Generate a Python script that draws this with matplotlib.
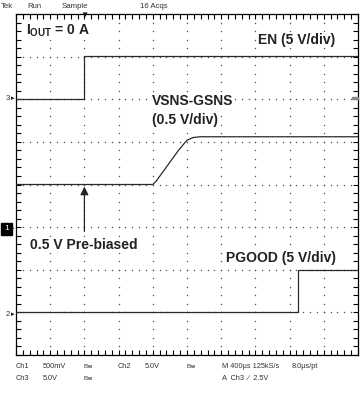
import numpy as np
import matplotlib
matplotlib.use("Agg")
import matplotlib.pyplot as plt

plt.rcParams['font.family'] = ['Liberation Sans', 'DejaVu Sans']
plt.rcParams['mathtext.fontset'] = 'custom'
plt.rcParams['mathtext.bf'] = 'Liberation Sans:bold'
plt.rcParams['mathtext.rm'] = 'Liberation Sans:bold'

# time base: 400 us/div, 10 div, trigger 2 div from the left (ms)
t_min, t_max = -0.8, 3.2

# EN, ch3, 5 V/div, ground at +2 div
en_t = [-0.8, 0.0, 0.0, 3.2]
en_v = [0.0, 0.0, 5.1, 5.1]
en_zero, en_scale = 2.0, 5.0

# VSNS-GSNS, ch1, 0.5 V/div, ground at -1 div
vs_t = [-0.8, 0.80, 0.84, 1.10, 1.20, 1.27, 1.35, 3.2]
vs_v = [0.50, 0.50, 0.54, 0.90, 1.02, 1.05, 1.06, 1.06]
vs_zero, vs_scale = -1.0, 0.5

# PGOOD, ch2, 5 V/div, ground at -3 div
pg_t = [-0.8, 2.50, 2.50, 3.2]
pg_v = [0.0, 0.0, 5.0, 5.0]
pg_zero, pg_scale = -3.0, 5.0

W, H = 361, 395
fig = plt.figure(figsize=(W / 100, H / 100), dpi=100)
fig.patch.set_facecolor('white')


def fx(px):
    return px / W


def fy(py):
    return 1 - py / H


ax = fig.add_axes([fx(16), fy(355), (358 - 16) / W, (355 - 14) / H])
ax.set_xlim(t_min, t_max)
ax.set_ylim(-4, 4)

# graticule dots on every division line
for k in range(1, 10):
    xv = t_min + 0.4 * k
    ys = np.arange(-4, 4.01, 0.2)
    ax.scatter(np.full(len(ys), xv), ys, s=1.1, color='#555', lw=0, zorder=1)
for d in range(-3, 4):
    xs = np.arange(t_min, t_max + 0.001, 0.08)
    ax.scatter(xs, np.full(len(xs), d), s=1.1, color='#555', lw=0, zorder=1)

ax.set_xticks([])
ax.set_yticks([])
ax.set_xticks(np.arange(t_min, t_max + 0.001, 0.08), minor=True)
ax.set_yticks(np.arange(-4, 4.01, 0.2), minor=True)
ax.tick_params(which='minor', direction='in', length=3.5, width=0.8,
               top=True, bottom=True, left=True, right=True,
               labelbottom=False, labelleft=False)
for s in ax.spines.values():
    s.set_linewidth(0.9)

trace_kw = dict(color='#2a2a2a', lw=0.9, zorder=3)
ax.plot(en_t, en_zero + np.array(en_v) / en_scale, **trace_kw)
ax.plot(vs_t, vs_zero + np.array(vs_v) / vs_scale, **trace_kw)
ax.plot(pg_t, pg_zero + np.array(pg_v) / pg_scale, **trace_kw)

# arrow to pre-biased level
ax.annotate('', xy=(0.0, -0.05), xytext=(0.0, -1.1),
            arrowprops=dict(arrowstyle='-|>', color='#222', lw=0.9,
                            mutation_scale=12, shrinkA=0, shrinkB=0), zorder=4)

# labels (white box hides the graticule dots behind them)
bold = dict(fontsize=10, fontweight='bold', color='#222', zorder=5,
            bbox=dict(boxstyle='square,pad=0.05', fc='white', ec='none'))
fig.text(fx(26), fy(31), r'$\mathbf{I_{OUT}}$ = 0 A', va='center', ha='left', **bold)
fig.text(fx(258), fy(40), 'EN (5 V/div)', va='center', ha='left', **bold)
fig.text(fx(152), fy(101), 'VSNS-GSNS', va='center', ha='left', **bold)
fig.text(fx(152), fy(120), '(0.5 V/div)', va='center', ha='left', **bold)
fig.text(fx(30), fy(245), '0.5 V Pre-biased', va='center', ha='left', **bold)
fig.text(fx(226), fy(258), 'PGOOD (5 V/div)', va='center', ha='left', **bold)

# header
small = dict(fontsize=5.6, color='#333', va='center', ha='left')
fig.text(fx(1), fy(6), 'Tek', **small)
fig.text(fx(27), fy(6), 'Run', **small)
fig.text(fx(62), fy(6), 'Sample', **small)
fig.text(fx(140), fy(6), '16 Acqs', **small)
fig.text(fx(84), fy(15), '\u25bc', fontsize=6, color='#111', ha='center', va='center')

# channel markers
fig.text(fx(6), fy(99), '3', **small)
fig.text(fx(11), fy(99), '\u25b8', fontsize=5, color='#111', ha='left', va='center')
fig.text(fx(6), fy(315), '2', **small)
fig.text(fx(11), fy(315), '\u25b8', fontsize=5, color='#111', ha='left', va='center')
fig.text(fx(4), fy(229), '1', fontsize=6, color='white', ha='left', va='center',
         bbox=dict(boxstyle='square,pad=0.35', fc='black', ec='black'))
fig.text(fx(11), fy(229), '\u25b8', fontsize=5, color='#111', ha='left', va='center')
fig.patches.append(plt.Rectangle((fx(352), fy(99)), 6 / W, 2 / H, transform=fig.transFigure,
                                 color='#888', zorder=5))

# footer
r1, r2 = fy(367), fy(379)
foot = dict(small, fontsize=5.3)
for x, s in [(16, 'Ch1'), (43, '500mV'), (118, 'Ch2'), (145, '5.0V'),
             (222, 'M 400\u00b5s 125kS/s'), (292, '8.0\u00b5s/pt')]:
    fig.text(fx(x), r1, s, **foot)
for x, s in [(16, 'Ch3'), (43, '5.0V'), (222, 'A  Ch3  \u2215  2.5V')]:
    fig.text(fx(x), r2, s, **foot)
for x, y in [(83, 367), (186, 367), (83, 379)]:
    fig.text(fx(x), fy(y), r'B$_{\mathrm{W}}$', fontsize=4.5, color='#333', va='center', ha='left')

fig.savefig('out.png', dpi=100)
